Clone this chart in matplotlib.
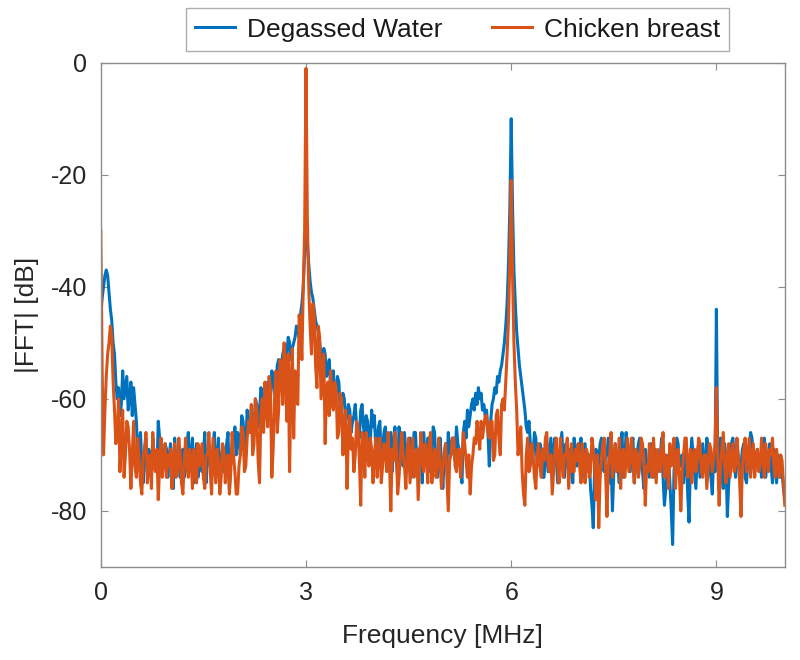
import numpy as np
import matplotlib
matplotlib.use("Agg")
import matplotlib.pyplot as plt

plt.rcParams['font.family'] = ['Liberation Sans', 'DejaVu Sans']
plt.rcParams['axes.unicode_minus'] = False

STEP = 0.02  # MHz between samples

# |FFT| [dB], one list per MHz (50 samples each)
water_rows = [
    [-45, -42, -40, -38, -37, -38, -41, -44, -46, -50,
     -52, -57, -60, -58, -63, -61, -55, -60, -58, -56,
     -62, -60, -57, -63, -58, -61, -64, -70, -68, -66,
     -72, -75, -69, -67, -73, -69, -70, -74, -67, -70,
     -71, -73, -64, -67, -68, -71, -72, -68, -69, -74],
    [-70, -68, -73, -76, -67, -72, -71, -69, -74, -71,
     -69, -74, -72, -68, -66, -73, -70, -67, -75, -72,
     -68, -74, -71, -69, -73, -70, -66, -75, -70, -68,
     -72, -73, -69, -66, -74, -71, -67, -75, -71, -69,
     -73, -72, -68, -66, -76, -71, -69, -68, -65, -70],
    [-66, -67, -70, -63, -64, -69, -68, -62, -65, -66,
     -62, -64, -66, -60, -61, -65, -63, -58, -59, -61,
     -62, -60, -57, -59, -60, -55, -56, -59, -58, -54,
     -53, -57, -55, -52, -51, -54, -52, -49, -50, -53,
     -51, -50, -49, -47, -48, -49, -45, -43, -40, -34],
    [-29, -32, -36, -39, -41, -42, -44, -46, -47, -48,
     -50, -52, -54, -51, -52, -56, -55, -53, -58, -57,
     -55, -60, -59, -56, -57, -62, -61, -59, -60, -64,
     -63, -61, -62, -66, -64, -63, -61, -65, -66, -67,
     -62, -61, -65, -67, -63, -64, -67, -68, -62, -65],
    [-63, -69, -67, -65, -64, -71, -69, -66, -65, -72,
     -70, -67, -66, -73, -68, -65, -71, -74, -65, -68,
     -69, -72, -66, -70, -72, -68, -67, -74, -70, -66,
     -66, -71, -73, -69, -68, -75, -66, -70, -71, -67,
     -67, -73, -69, -65, -66, -72, -74, -70, -67, -71],
    [-76, -71, -68, -72, -66, -69, -70, -67, -67, -71,
     -65, -68, -69, -73, -75, -66, -64, -67, -62, -65,
     -63, -61, -60, -62, -59, -61, -58, -60, -59, -62,
     -61, -63, -62, -66, -72, -64, -61, -60, -58, -59,
     -56, -57, -55, -54, -52, -50, -47, -43, -36, -26],
    [-10, -26, -37, -43, -48, -51, -54, -56, -58, -60,
     -62, -65, -66, -64, -68, -71, -70, -66, -67, -72,
     -71, -68, -69, -74, -74, -70, -68, -73, -70, -67,
     -72, -69, -67, -71, -75, -72, -69, -66, -71, -74,
     -68, -71, -73, -69, -70, -75, -67, -70, -72, -68],
    [-70, -67, -74, -71, -68, -73, -72, -70, -76, -79,
     -83, -72, -69, -74, -71, -68, -67, -72, -73, -70,
     -70, -67, -75, -71, -80, -73, -68, -70, -72, -75,
     -69, -66, -74, -71, -66, -69, -71, -73, -68, -67,
     -75, -72, -70, -68, -67, -71, -73, -76, -69, -72],
    [-71, -74, -68, -70, -74, -69, -70, -73, -72, -70,
     -67, -74, -79, -76, -73, -70, -75, -80, -86, -73,
     -70, -67, -68, -72, -72, -70, -75, -71, -69, -77,
     -82, -71, -67, -70, -73, -76, -70, -68, -74, -71,
     -68, -73, -72, -67, -69, -72, -74, -77, -70, -73],
    [-44, -72, -70, -67, -73, -76, -68, -71, -81, -75,
     -72, -68, -67, -70, -74, -71, -70, -73, -72, -69,
     -68, -74, -75, -71, -70, -66, -67, -71, -73, -70,
     -69, -72, -71, -74, -68, -67, -74, -71, -70, -68,
     -72, -75, -69, -72, -75, -70, -71, -74, -73, -76],
    [-78],
]

chicken_rows = [
    [-30, -55, -70, -62, -56, -52, -50, -47, -49, -57,
     -62, -68, -66, -60, -73, -67, -62, -74, -70, -64,
     -65, -69, -76, -70, -64, -72, -74, -67, -71, -75,
     -77, -70, -69, -66, -75, -72, -70, -76, -66, -72,
     -73, -69, -78, -72, -67, -74, -71, -68, -74, -70],
    [-72, -69, -76, -71, -68, -74, -73, -67, -70, -75,
     -77, -71, -67, -72, -74, -69, -71, -76, -69, -73,
     -75, -68, -72, -70, -68, -74, -76, -70, -70, -66,
     -73, -77, -67, -71, -75, -69, -71, -77, -74, -68,
     -69, -75, -72, -70, -77, -73, -66, -70, -73, -77],
    [-77, -72, -70, -65, -66, -73, -72, -67, -64, -66,
     -61, -70, -68, -60, -62, -71, -75, -63, -60, -66,
     -57, -62, -65, -56, -58, -74, -69, -60, -55, -66,
     -62, -53, -54, -61, -50, -56, -64, -52, -73, -58,
     -51, -67, -55, -60, -61, -45, -48, -53, -40, -30],
    [-1, -28, -40, -47, -52, -43, -45, -54, -58, -47,
     -49, -60, -56, -52, -68, -58, -57, -63, -55, -61,
     -62, -57, -58, -67, -66, -59, -60, -70, -64, -62,
     -76, -66, -63, -69, -67, -73, -70, -64, -65, -71,
     -79, -66, -68, -74, -66, -70, -72, -67, -69, -75],
    [-70, -67, -74, -70, -67, -75, -72, -68, -69, -73,
     -66, -71, -80, -69, -71, -66, -68, -77, -74, -70,
     -66, -70, -72, -76, -69, -67, -75, -71, -67, -74,
     -71, -69, -78, -72, -66, -71, -73, -68, -70, -75,
     -68, -66, -75, -71, -69, -74, -72, -67, -71, -76],
    [-72, -70, -68, -74, -80, -71, -70, -67, -67, -72,
     -73, -69, -69, -74, -71, -66, -68, -71, -74, -70,
     -77, -72, -70, -67, -68, -64, -66, -69, -64, -67,
     -65, -63, -63, -66, -67, -64, -64, -71, -70, -63,
     -62, -67, -70, -61, -60, -62, -57, -52, -46, -35],
    [-21, -38, -50, -57, -62, -70, -68, -65, -73, -77,
     -79, -70, -67, -73, -72, -68, -70, -74, -76, -70,
     -68, -72, -74, -69, -71, -67, -66, -72, -73, -70,
     -77, -73, -69, -67, -72, -75, -67, -71, -74, -70,
     -70, -67, -76, -72, -68, -73, -73, -69, -71, -68],
    [-72, -75, -68, -71, -75, -69, -70, -74, -73, -67,
     -69, -72, -78, -70, -83, -74, -71, -68, -67, -73,
     -81, -72, -70, -66, -74, -71, -68, -73, -72, -67,
     -76, -70, -69, -74, -71, -67, -73, -70, -67, -72,
     -75, -69, -70, -74, -72, -67, -68, -71, -79, -72],
    [-73, -68, -70, -74, -67, -71, -75, -69, -71, -73,
     -69, -66, -74, -70, -72, -76, -68, -72, -71, -67,
     -76, -72, -69, -74, -80, -73, -70, -67, -67, -74,
     -72, -69, -75, -70, -69, -73, -71, -67, -68, -73,
     -74, -70, -70, -76, -72, -68, -69, -73, -71, -68],
    [-58, -71, -79, -72, -69, -66, -72, -75, -70, -68,
     -74, -71, -68, -73, -72, -67, -70, -75, -81, -72,
     -69, -67, -73, -70, -67, -74, -71, -68, -74, -70,
     -69, -73, -72, -67, -70, -74, -68, -71, -73, -69,
     -70, -67, -72, -74, -69, -72, -74, -70, -71, -75],
    [-79],
]

for name, rows in (("water", water_rows), ("chicken", chicken_rows)):
    lens = [len(r) for r in rows[:-1]]
    if any(n != 50 for n in lens):
        raise ValueError(f"{name} row lengths: {lens}")

water = [v for r in water_rows for v in r]
chicken = [v for r in chicken_rows for v in r]
freq_w = np.arange(len(water)) * STEP
freq_c = np.arange(len(chicken)) * STEP

labels = ["Degassed Water", "Chicken breast"]
x_ticks = [0, 3, 6, 9]
y_ticks = [-80, -60, -40, -20, 0]

fig = plt.figure(figsize=(8, 6.6), dpi=100)
ax = fig.add_axes([0.126, 0.141, 0.855, 0.764])

ax.plot(freq_w, water, color='#0072BD', lw=2.2, label=labels[0])
ax.plot(freq_c, chicken, color='#D95319', lw=2.2, label=labels[1])

ax.set_xlim(0, 10)
ax.set_ylim(-90, 0)
ax.set_xticks(x_ticks)
ax.set_yticks(y_ticks)
ax.tick_params(direction='in', length=5, width=0.8, top=True, right=True,
               labelsize=18, colors='#262626', pad=10)
ax.tick_params(axis='both', color='#8c8c8c')
for s in ax.spines.values():
    s.set_color('#8c8c8c')
    s.set_linewidth(1.0)

ax.set_xlabel("Frequency [MHz]", fontsize=19, color='#262626', labelpad=14)
ax.set_ylabel("|FFT| [dB]", fontsize=19, color='#262626', labelpad=8)

leg = fig.legend(loc='center', bbox_to_anchor=(0.572, 0.955), ncol=2,
                 fontsize=19, frameon=True, fancybox=False, handlelength=1.5,
                 handletextpad=0.45, columnspacing=1.9, borderpad=0.35,
                 borderaxespad=0)
leg.get_frame().set_edgecolor('#9a9a9a')
leg.get_frame().set_linewidth(1.0)
for t in leg.get_texts():
    t.set_color('#1a1a1a')

fig.savefig("out.png", dpi=100)
